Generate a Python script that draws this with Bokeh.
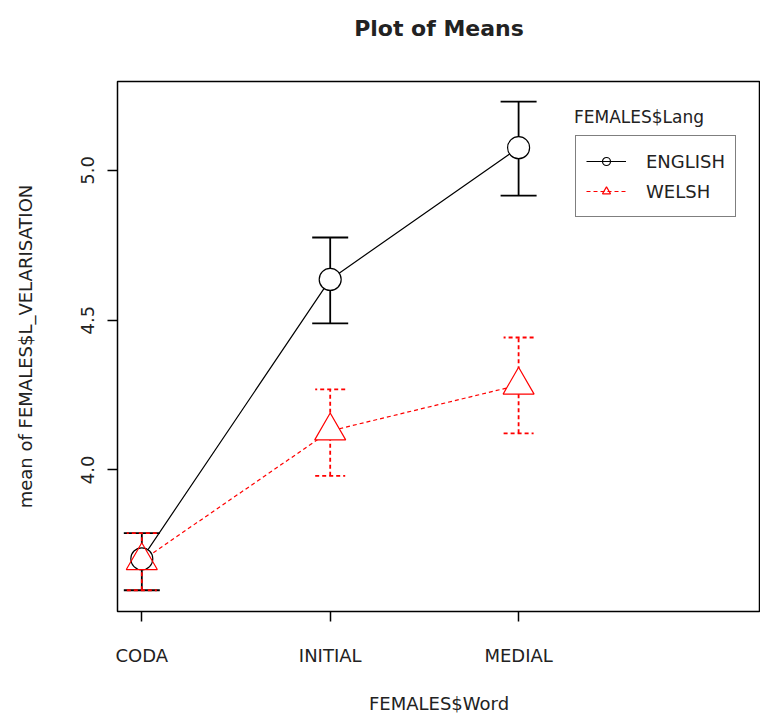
from bokeh.plotting import figure
from bokeh.models import (Range1d, FixedTicker, PrintfTickFormatter, Whisker, TeeHead,
                          ColumnDataSource, Legend, LegendItem, Label, Title)
from bokeh.embed import file_html
from bokeh.resources import INLINE

# ---- data ----
words = ["CODA", "INITIAL", "MEDIAL"]
word_pos = [1, 2, 3]

english_mean = [3.703, 4.636, 5.076]
english_upper = [3.789, 4.776, 5.230]
english_lower = [3.598, 4.489, 4.916]

welsh_mean = [3.697, 4.130, 4.283]
welsh_upper = [3.789, 4.269, 4.442]
welsh_lower = [3.598, 3.980, 4.122]

y_ticks = [4.0, 4.5, 5.0]

X0, X1 = 0.871, 4.284
Y0, Y1 = 3.527, 5.297

FONT = "DejaVu Sans"
TXT = "#222222"

p = figure(width=760, height=716, output_backend="svg", toolbar_location=None,
           x_range=Range1d(X0, X1), y_range=Range1d(Y0, Y1),
           min_border_left=117, min_border_right=0, min_border_top=81,
           min_border_bottom=104)

# spacer between frame and title, then the title itself (stacked outward)
p.add_layout(Title(text=" ", text_font_size="35px", standoff=0), "above")
p.add_layout(Title(text="Plot of Means", align="center", text_font=FONT,
                   text_font_size="22px", text_font_style="bold", text_color=TXT,
                   standoff=0), "above")

p.background_fill_color = "white"
p.border_fill_color = "white"
p.outline_line_color = "black"
p.outline_line_width = 1.5
p.xgrid.visible = False
p.ygrid.visible = False

for ax in (p.xaxis[0], p.yaxis[0]):
    ax.axis_line_color = None
    ax.major_tick_in = 0
    ax.major_tick_out = 10
    ax.major_tick_line_width = 1.5
    ax.minor_tick_line_color = None
    ax.major_label_text_font = FONT
    ax.major_label_text_font_size = "18px"
    ax.major_label_text_color = TXT
    ax.axis_label_text_font = FONT
    ax.axis_label_text_font_size = "18px"
    ax.axis_label_text_font_style = "normal"
    ax.axis_label_text_color = TXT

p.xaxis.ticker = FixedTicker(ticks=word_pos)
p.xaxis.major_label_overrides = {pos: w for pos, w in zip(word_pos, words)}
p.xaxis.major_label_standoff = 23
p.xaxis.axis_label = "FEMALES$Word"
p.xaxis.axis_label_standoff = 24

p.yaxis.ticker = FixedTicker(ticks=y_ticks)
p.yaxis.formatter = PrintfTickFormatter(format="%.1f")
p.yaxis.major_label_orientation = "vertical"
p.yaxis.major_label_standoff = 13
p.yaxis.axis_label = "mean of FEMALES$L_VELARISATION"
p.yaxis.axis_label_standoff = 43

src_e = ColumnDataSource(dict(x=word_pos, y=english_mean, up=english_upper, lo=english_lower))
src_w = ColumnDataSource(dict(x=word_pos, y=welsh_mean, up=welsh_upper, lo=welsh_lower))

RED = "#ff0000"
DASH = "4 3"

l_e = p.line("x", "y", source=src_e, line_color="black", line_width=1.2)
l_w = p.line("x", "y", source=src_w, line_color=RED, line_width=1.2, line_dash=DASH)

# white knock-outs so connecting lines stop at the markers
p.scatter("x", "y", source=src_e, marker="circle", size=22, fill_color="white", line_color=None)
p.scatter("x", "y", source=src_w, marker="triangle", size=31, fill_color="white", line_color=None)

m_e = p.scatter("x", "y", source=src_e, marker="circle", size=22, fill_color=None,
                line_color="black", line_width=1.2)
m_w = p.scatter("x", "y", source=src_w, marker="triangle", size=31, fill_color=None,
                line_color=RED, line_width=1.2)

we = Whisker(base="x", upper="up", lower="lo", source=src_e, dimension="height",
             line_color="black", line_width=1.8,
             upper_head=TeeHead(size=36, line_color="black", line_width=1.8),
             lower_head=TeeHead(size=36, line_color="black", line_width=1.8))
ww = Whisker(base="x", upper="up", lower="lo", source=src_w, dimension="height",
             line_color=RED, line_width=1.8, line_dash=DASH,
             upper_head=TeeHead(size=30, line_color=RED, line_width=1.8, line_dash=DASH),
             lower_head=TeeHead(size=30, line_color=RED, line_width=1.8, line_dash=DASH))
p.add_layout(we)
p.add_layout(ww)

legend = Legend(items=[LegendItem(label="ENGLISH", renderers=[l_e, m_e]),
                       LegendItem(label="WELSH", renderers=[l_w, m_w])],
                location=(458, 394))
legend.border_line_color = "black"
legend.border_line_width = 1.5
legend.background_fill_alpha = 1
legend.padding = 10
legend.spacing = 0
legend.margin = 0
legend.glyph_width = 40
legend.glyph_height = 20
legend.label_height = 30
legend.label_standoff = 20
legend.label_text_font = FONT
legend.label_text_font_size = "18px"
legend.label_text_color = TXT
p.add_layout(legend, "center")

p.add_layout(Label(x=3.294, y=5.177, text="FEMALES$Lang", text_baseline="middle",
                   text_font=FONT, text_font_size="17px", text_color=TXT))

open("out.html", "w").write(file_html(p, INLINE))
